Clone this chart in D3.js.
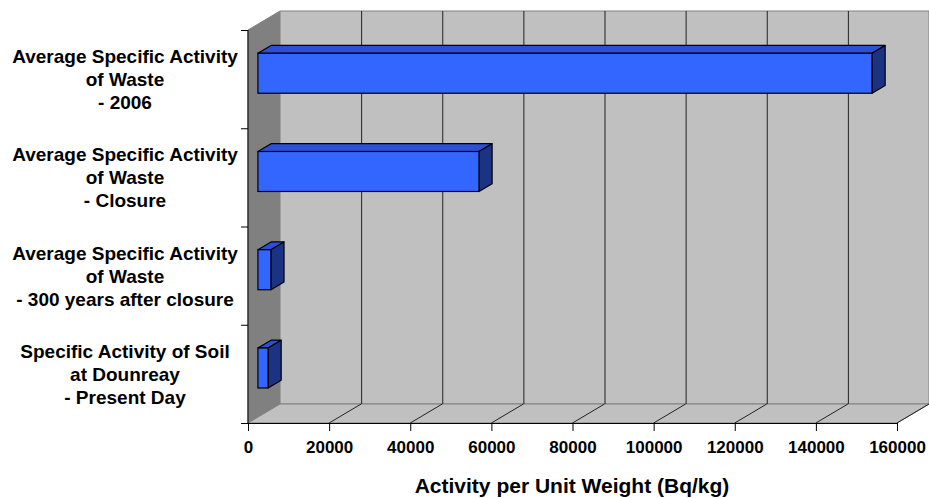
<!DOCTYPE html>
<html><head><meta charset="utf-8">
<script src="https://cdn.jsdelivr.net/npm/d3@7"></script>
<style>body{margin:0;background:#fff}svg{display:block}text{font-family:"Liberation Sans",Arial,sans-serif;font-weight:bold;fill:#000}</style>
</head><body><svg id="c" width="929" height="498"></svg>
<script>
const categories = [
  ["Average Specific Activity","of Waste","- 2006"],
  ["Average Specific Activity","of Waste","- Closure"],
  ["Average Specific Activity","of Waste","- 300 years after closure"],
  ["Specific Activity of Soil","at Dounreay","- Present Day"]
];
const values = [151400, 54500, 3200, 2500];
const xTicks = [0,20000,40000,60000,80000,100000,120000,140000,160000];
const xTitle = "Activity per Unit Weight (Bq/kg)";

const svg = d3.select("#c");
const x = d3.scaleLinear().domain([0,160000]).range([248,897]);
const keys = categories.map((c,i)=>i);
const y = d3.scaleBand().domain(keys).range([30,423]);
const DX = 32, DY = -19;
const x0 = x(0), yB = 423, yT = 30;

// left wall
svg.append("polygon").attr("points",[[x0,yT],[x0+DX,yT+DY],[x0+DX,yB+DY],[x0,yB]].join(" "))
  .attr("fill","#808080").attr("stroke","#808080");
// back wall
svg.append("polygon").attr("points",[[x0+DX,yT+DY],[x(160000)+DX,yT+DY],[x(160000)+DX,yB+DY],[x0+DX,yB+DY]].join(" "))
  .attr("fill","#c0c0c0").attr("stroke","#808080");
// floor
svg.append("polygon").attr("points",[[x0,yB],[x(160000),yB],[x(160000)+DX,yB+DY],[x0+DX,yB+DY]].join(" "))
  .attr("fill","#c0c0c0").attr("stroke","#808080");
// gridlines on back wall and floor
xTicks.forEach(t=>{
  if(t>0){
    svg.append("line").attr("x1",x(t)+DX+0.5).attr("x2",x(t)+DX+0.5).attr("y1",yT+DY).attr("y2",yB+DY).attr("stroke","#222");
    svg.append("line").attr("x1",x(t)).attr("y1",yB).attr("x2",x(t)+DX).attr("y2",yB+DY).attr("stroke","#222");
  }
});

// bars
const f0 = 0.31, fd = 0.41, bh = 40;
const g = svg.append("g");
values.forEach((v,i)=>{
  const cy = y(i)+y.bandwidth()/2 + f0*DY;
  const xa = x0 + f0*DX, xb = x(v) + f0*DX;
  const t = cy - bh/2, b = cy + bh/2;
  const dx = fd*DX, dy = fd*DY;
  g.append("polygon").attr("points",[[xa,t],[xb,t],[xb+dx,t+dy],[xa+dx,t+dy]].join(" "))
    .attr("fill","#2c4fd8").attr("stroke","#000").attr("stroke-width",1.2).attr("stroke-linejoin","round");
  g.append("polygon").attr("points",[[xb,t],[xb+dx,t+dy],[xb+dx,b+dy],[xb,b]].join(" "))
    .attr("fill","#1c3383").attr("stroke","#000").attr("stroke-width",1.2).attr("stroke-linejoin","round");
  g.append("rect").attr("x",xa).attr("y",t).attr("width",xb-xa).attr("height",bh)
    .attr("fill","#3366ff").attr("stroke","#000").attr("stroke-width",1.2);
});

// left axis
svg.append("line").attr("x1",x0).attr("x2",x0).attr("y1",yT).attr("y2",yB).attr("stroke","#000");
[...keys.map(k=>y(k)), yB].forEach(v=>{
  svg.append("line").attr("x1",x0-7).attr("x2",x0).attr("y1",v+0.5).attr("y2",v+0.5).attr("stroke","#000");
});
// category labels
categories.forEach((lines,i)=>{
  const cy = y(i)+y.bandwidth()/2;
  const tx = svg.append("text").attr("text-anchor","middle").attr("x",125).attr("font-size",19);
  lines.forEach((l,j)=>{
    tx.append("tspan").attr("x",125).attr("y",cy + (j-1)*23 + 7).text(l);
  });
});

// bottom axis
const ax = svg.append("g").attr("transform",`translate(0,${yB})`)
  .call(d3.axisBottom(x).tickValues(xTicks).tickFormat(d3.format("d")).tickSizeOuter(0).tickSize(8).tickPadding(10));
ax.select(".domain").attr("stroke","#000");
ax.selectAll("text").attr("font-size",17).attr("font-family","Liberation Sans, Arial, sans-serif").attr("font-weight","bold").attr("fill","#000");
ax.selectAll("line").attr("stroke","#000");

svg.append("text").attr("x",572).attr("y",493).attr("text-anchor","middle").attr("font-size",21).text(xTitle);
</script></body></html>
